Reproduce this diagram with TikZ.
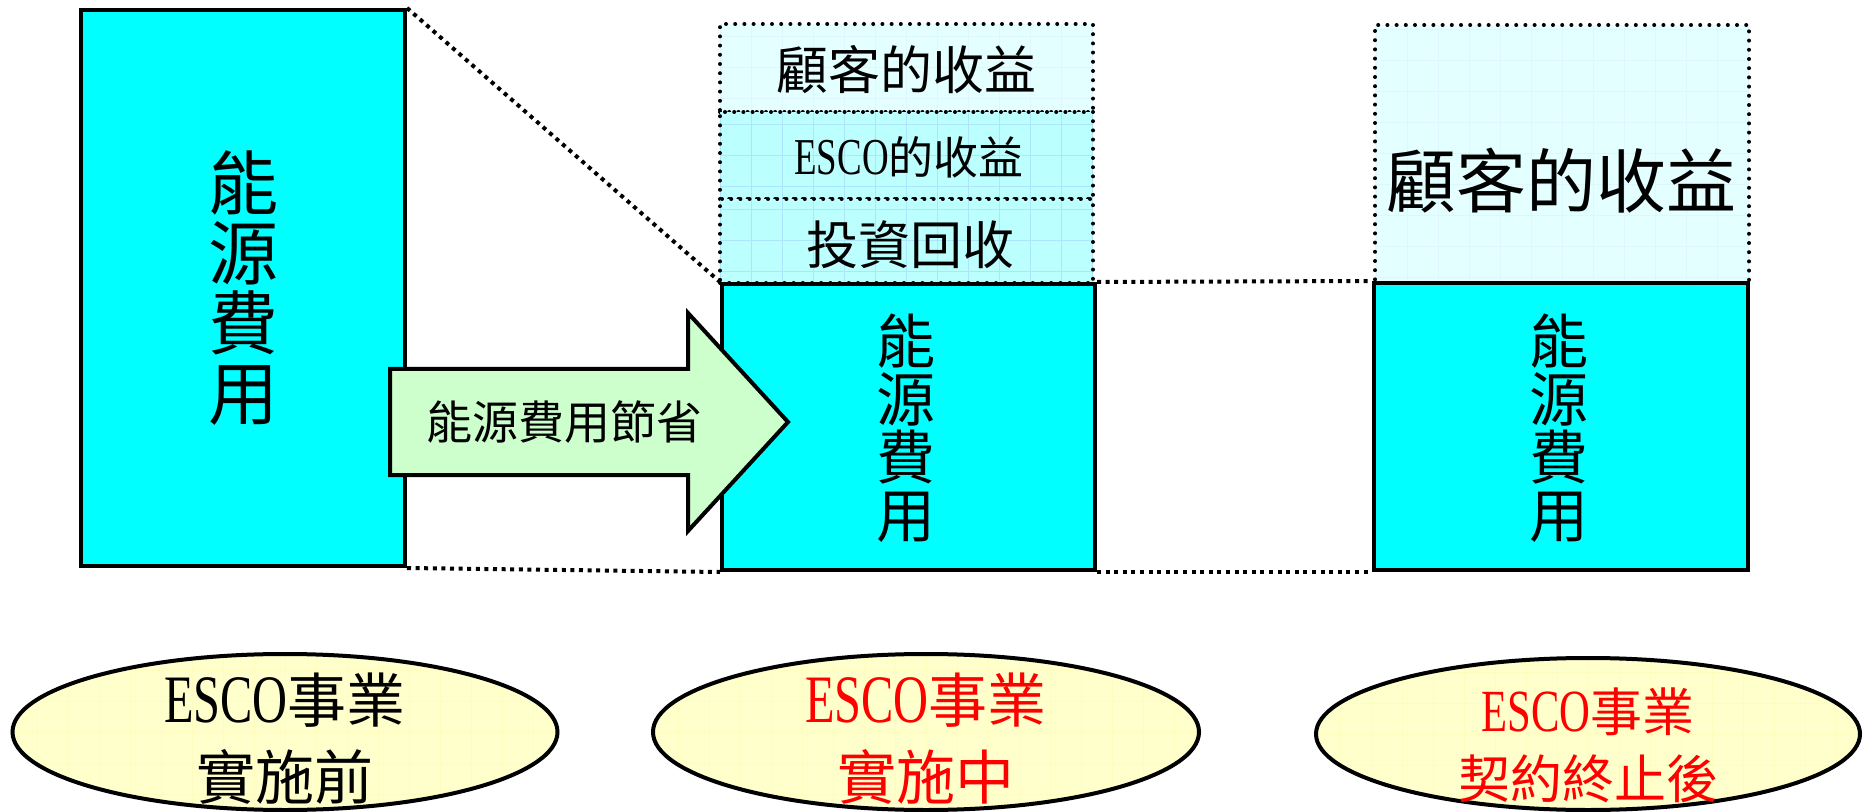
\documentclass[tikz,border=0pt]{standalone}
\usepackage{fontspec}
\usepackage{graphicx}
\setmainfont{Liberation Serif}
\newfontfamily\cjk{Noto Sans CJK TC}
\usetikzlibrary{shapes.geometric}
\definecolor{boxcyan}{HTML}{00FFFF}
\definecolor{palecyan}{HTML}{E4FFFF}
\definecolor{midcyan}{HTML}{BCFFFF}
\definecolor{paleyellow}{HTML}{FFFFCC}
\definecolor{palegreen}{HTML}{CCFFCC}
\newcommand\escoword{{\rmfamily\scalebox{0.82}[1.15]{ESCO}}}
\begin{document}
\begin{tikzpicture}[x=0.5pt,y=-0.5pt,
  gridfill/.style={path picture={\draw[#1,solid,line cap=butt,line width=0.5pt] (path picture bounding box.south west) grid[step=15.5pt] (path picture bounding box.north east);}},
  cyanbox/.style={draw=black,line width=2pt,fill=boxcyan,inner sep=0pt},
  dotbox/.style={draw=black,line width=2pt,dash pattern=on 0pt off 4.6pt,line cap=round,inner sep=0pt},
  dotln/.style={draw=black,line width=2pt,dash pattern=on 2pt off 2.3pt},
  ell/.style={ellipse,draw=black,line width=2pt,fill=paleyellow,gridfill=yellow!25,inner sep=0pt},
  lbl/.style={font=\cjk,text=black,inner sep=0pt,align=center},
  arrowshape/.style={draw=black,line width=2pt,fill=palegreen,line join=miter},
]
\useasboundingbox (0,0) rectangle (1868,812);

% left box
\node[cyanbox,minimum width=162pt,minimum height=278pt] (L) at (243,288) {};
\node[lbl,font=\cjk\fontsize{35}{35}\selectfont] (Lt) at (L.center) {能\\源\\費\\用};

% middle stack
\node[dotbox,fill=palecyan,gridfill=cyan!12,minimum width=186.5pt,minimum height=44pt] (S1) at (906.5,68) {};
\node[dotbox,fill=midcyan,gridfill=cyan!32,minimum width=186.5pt,minimum height=43.5pt] (S2) at (906.5,155.5) {};
\node[dotbox,fill=midcyan,gridfill=cyan!32,minimum width=186.5pt,minimum height=42pt] (S3) at (906.5,241) {};
\node[lbl,font=\cjk\fontsize{26}{26}\selectfont] (S1t) at (906.5,70) {顧客的收益};
\node[lbl,font=\cjk\fontsize{22.5}{22.5}\selectfont] (S2t) at (909,157) {\escoword 的收益};
\node[lbl,font=\cjk\fontsize{26}{26}\selectfont] (S3t) at (910,245) {投資回收};

% middle cyan box
\node[cyanbox,minimum width=186.5pt,minimum height=143pt] (M) at (908.5,427) {};
\node[lbl,font=\cjk\fontsize{29.5}{29}\selectfont] (Mt) at (906,428) {能\\源\\費\\用};

% right
\node[dotbox,fill=palecyan,gridfill=cyan!12,minimum width=187pt,minimum height=129pt] (R1) at (1562,154) {};
\node[lbl,font=\cjk\fontsize{35}{35}\selectfont] (R1t) at (1561,181) {顧客的收益};
\node[cyanbox,minimum width=187pt,minimum height=143.5pt] (R) at (1561,426.5) {};
\node[lbl,font=\cjk\fontsize{29.5}{29}\selectfont] (Rt) at (1559,428) {能\\源\\費\\用};

% dotted guide lines
\draw[dotln] (L.north east) -- (M.north west);
\draw[dotln] (L.south east) -- (M.south west);
\draw[dotln] (M.north east) -- (R.north west);
\draw[dotln] (M.south east) -- (R.south west);

% arrow
\draw[arrowshape] (390,369) -- (688,369) -- (688,313) -- (788,422) -- (688,531) -- (688,475) -- (390,475) -- cycle;
\node[lbl,font=\cjk\fontsize{23}{23}\selectfont] (At) at (564,422) {能源費用節省};

% ellipses
\node[ell,minimum width=272.5pt,minimum height=78pt] (E1) at (285,732) {};
\node[ell,minimum width=273pt,minimum height=78pt] (E2) at (926,732) {};
\node[ell,minimum width=272pt,minimum height=76pt] (E3) at (1588,734) {};
\node[lbl,font=\cjk\fontsize{29.5}{38.5}\selectfont] (E1t) at (285,739) {\escoword 事業\\實施前};
\node[lbl,text=red,font=\cjk\fontsize{29.5}{38.5}\selectfont] (E2t) at (926,739) {\escoword 事業\\實施中};
\node[lbl,text=red,font=\cjk\fontsize{26}{33.5}\selectfont] (E3t) at (1588,745) {\escoword 事業\\契約終止後};
\end{tikzpicture}
\end{document}
